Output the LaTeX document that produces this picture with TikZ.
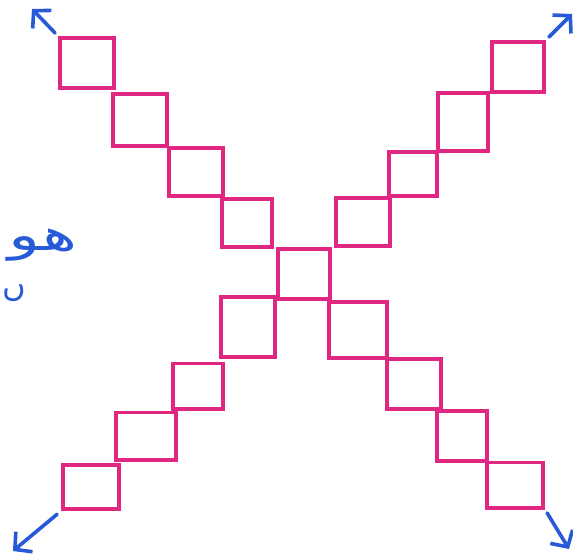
\documentclass[tikz,border=0pt]{standalone}
\usepackage{fontspec}
\usepackage{xcolor}
\usetikzlibrary{arrows.meta, positioning}
\TeXXeTstate=1
\newfontfamily\arabicfont[Script=Arabic]{DejaVu Sans}
\definecolor{rosa}{RGB}{224, 40, 130}
\definecolor{azul}{RGB}{40, 90, 215}

\begin{document}
\begin{tikzpicture}[x=0.035cm, y=-0.035cm,
    cell/.style 2 args={draw=rosa, line width=3.8pt, rectangle, minimum width=#1pt, minimum height=#2pt, inner sep=0pt},
    seta/.style={draw=azul, line width=3.6pt, line cap=round, line join=round, -{Straight Barb[length=12pt, width=26pt, line width=3.6pt]}},
    escrita/.style={text=azul, font=\arabicfont\fontsize{44}{46}\selectfont, inner sep=0pt}
]
    \useasboundingbox (0,0) rectangle (573,554);

    % Centre
    \node[cell={52}{49}] (c) at (304,274) {};

    % Upper left arm
    \node[cell={54}{50}] (tl1) at (87,63) {};
    \node[cell={53}{51}] (tl2) at (140,120) {};
    \node[cell={53}{48}] (tl3) at (196,172) {};
    \node[cell={50}{47}] (tl4) at (247,223) {};

    % Upper right arm
    \node[cell={52}{50}] (tr1) at (518,67) {};
    \node[cell={49}{57}] (tr2) at (463,122) {};
    \node[cell={48}{44}] (tr3) at (413,174) {};
    \node[cell={54}{47}] (tr4) at (363,222) {};

    % Lower left arm
    \node[cell={56}{44}] (bl1) at (91,487) {};
    \node[cell={59}{47}] (bl2) at (146,436) {};
    \node[cell={50}{45}] (bl3) at (198,386) {};
    \node[cell={54}{59}] (bl4) at (248,327) {};

    % Lower right arm
    \node[cell={56}{45}] (br1) at (515,485) {};
    \node[cell={49}{50}] (br2) at (462,436) {};
    \node[cell={54}{49}] (br3) at (414,384) {};
    \node[cell={58}{55}] (br4) at (358,330) {};

    % Arrow ends
    \coordinate (tlEnd) at (32,9);
    \coordinate (trEnd) at (572,14);
    \coordinate (blEnd) at (13,551);
    \coordinate (brEnd) at (569,549);

    % Arrows
    \draw[seta, shorten <=4pt] (tl1.north west) -- (tlEnd);
    \draw[seta, shorten <=4pt] (tr1.north east) -- (trEnd);
    \draw[seta, shorten <=5pt] (bl1.south west) -- (blEnd);
    \draw[seta, shorten <=4pt] (br1.south east) -- (brEnd);

    % Handwriting
    \node[escrita, anchor=base east, xscale=1.5, transform shape] (linha1) at (78,250) {\beginR هو\endR};
    \node[escrita, anchor=base east, font=\arabicfont\fontsize{32}{34}\selectfont] (linha2) at (26,296) {\beginR ں\endR};
\end{tikzpicture}
\end{document}
